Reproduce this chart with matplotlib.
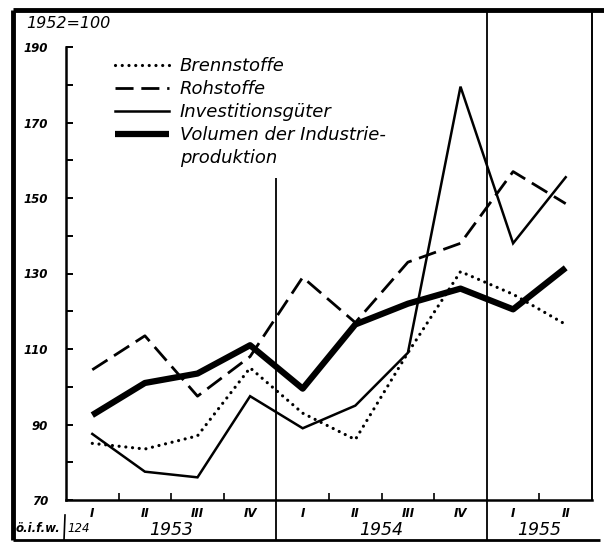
import matplotlib
matplotlib.use("Agg")
import matplotlib.pyplot as plt
from matplotlib.lines import Line2D
import numpy as np

quarters = ["I", "II", "III", "IV", "I", "II", "III", "IV", "I", "II"]
years = ["1953", "1954", "1955"]
year_centers = [2.0, 6.0, 9.0]
brennstoffe = [85, 83.5, 87, 105, 93, 86, 109, 130.5, 124.5, 116.5]
rohstoffe = [104.5, 113.5, 97.5, 108, 129, 117, 133, 138, 157, 148.5]
investitionsgueter = [87.5, 77.5, 76, 97.5, 89, 95, 109, 179.5, 138, 155.5]
volumen = [92.5, 101, 103.5, 111, 99.5, 116.5, 122, 126, 120.5, 131.5]
yticks_major = [70, 90, 110, 130, 150, 170, 190]
yticks_minor = [80, 100, 120, 140, 160, 180]

plt.rcParams['font.family'] = ['DejaVu Sans']

W, H = 604, 543
fig = plt.figure(figsize=(W / 100, H / 100), dpi=100)
L, R, B, T = 66, 592, 500, 12
ax = fig.add_axes([L / W, 1 - B / H, (R - L) / W, (B - T) / H])

x = np.arange(len(quarters)) + 0.5
ax.set_xlim(0, 10)
ymin = 70
ymax = 70 + (B - T) / 3.775
ax.set_ylim(ymin, ymax)

ln_b, = ax.plot(x, brennstoffe, color='black', lw=2.3, linestyle=(0, (0.01, 2.1)),
                dash_capstyle='round', solid_capstyle='round')
ln_r, = ax.plot(x, rohstoffe, color='black', lw=2.0, linestyle=(0, (6.5, 2.8)),
                dash_capstyle='butt')
ln_i, = ax.plot(x, investitionsgueter, color='black', lw=1.8, solid_joinstyle='miter')
ln_v, = ax.plot(x, volumen, color='black', lw=4.5, solid_joinstyle='round',
                solid_capstyle='butt')

# spines
ax.spines['top'].set_visible(False)
ax.spines['left'].set_bounds(70, 190)
ax.spines['left'].set_linewidth(1.8)
ax.spines['bottom'].set_linewidth(1.8)
ax.spines['right'].set_linewidth(1.4)

# y ticks
ax.set_yticks(yticks_major)
ax.set_yticks(yticks_minor, minor=True)
ax.set_yticklabels([str(v) for v in yticks_major], fontsize=8.5, fontstyle='oblique',
                   fontweight='bold')
ax.tick_params(axis='y', which='both', direction='in', length=5, width=1.4, pad=13)

# x ticks
ax.set_xticks(x)
ax.set_xticklabels(quarters, fontsize=8.5, fontstyle='oblique', fontweight='bold')
ax.set_xticks([1, 2, 3, 5, 6, 7, 9], minor=True)
ax.tick_params(axis='x', which='major', length=0, pad=5)
ax.tick_params(axis='x', which='minor', direction='in', length=5, width=1.2)

# year separators
y_bottom = 70 - (540 - B) / 3.775
ax.vlines([4], 155.3, y_bottom, color='black', lw=1.3, clip_on=False)
ax.vlines([8], y_bottom, ymax, color='black', lw=1.3, clip_on=False)

y_year = 70 - (530 - B) / 3.775
for yc, yl in zip(year_centers, years):
    ax.text(yc, y_year, yl, ha='center', va='center', fontsize=12.5, fontstyle='oblique')

# legend
blank = Line2D([], [], color='none')
leg = ax.legend([ln_b, ln_r, ln_i, ln_v, blank],
                ["Brennstoffe", "Rohstoffe", "Investitionsgüter", "Volumen der Industrie-",
                 "produktion"],
                loc='upper left', bbox_to_anchor=(115 / W, 1 - 57 / H),
                bbox_transform=fig.transFigure, frameon=False,
                prop={'size': 13, 'style': 'oblique'},
                handlelength=3.0, handletextpad=0.6, labelspacing=0.28,
                borderpad=0, borderaxespad=0)

# header text
fig.text(26 / W, 1 - 24 / H, "1952=100", fontsize=11.5, fontstyle='oblique',
         ha='left', va='center')
fig.text(16 / W, 1 - 529 / H, "ö.i.f.w.", fontsize=8.5, fontstyle='oblique',
         fontweight='bold', ha='left', va='center')
fig.text(67 / W, 1 - 529 / H, "124", fontsize=8.5, fontstyle='oblique',
         ha='left', va='center')
fig.add_artist(Line2D([65 / W, 64 / W], [1 - 515 / H, 1 - 540 / H],
                      color='black', lw=1.2, transform=fig.transFigure))

# outer frame
fig.add_artist(Line2D([13 / W, 604 / W], [1 - 10 / H, 1 - 10 / H], color='black', lw=3.5,
                      transform=fig.transFigure, solid_capstyle='butt'))
fig.add_artist(Line2D([13 / W, 13 / W], [1 - 10 / H, 1 - 540 / H], color='black', lw=3.5,
                      transform=fig.transFigure, solid_capstyle='butt'))
fig.add_artist(Line2D([13 / W, 600 / W], [1 - 540 / H, 1 - 540 / H], color='black', lw=2.0,
                      transform=fig.transFigure, solid_capstyle='butt'))

fig.savefig("out.png", dpi=100)
